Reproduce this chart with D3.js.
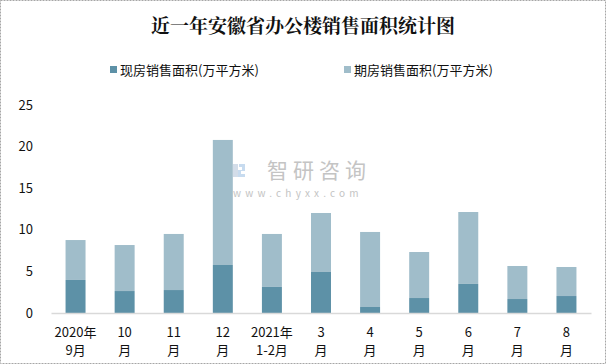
<!DOCTYPE html>
<html><head><meta charset="utf-8">
<script src="https://cdn.jsdelivr.net/npm/d3@7"></script>
<style>
html,body{margin:0;padding:0;background:#fff;}
svg{display:block;}
text{font-family:"Microsoft YaHei","Noto Sans CJK SC",sans-serif;}
</style></head>
<body>
<script>
const categories = [["2020年","9月"],["10","月"],["11","月"],["12","月"],["2021年","1-2月"],["3","月"],["4","月"],["5","月"],["6","月"],["7","月"],["8","月"]];
const seriesNames = ["现房销售面积(万平方米)","期房销售面积(万平方米)"];
const existingArea = [3.97, 2.64, 2.76, 5.77, 3.13, 4.93, 0.72, 1.80, 3.49, 1.68, 2.04];
const forwardArea  = [4.80, 5.53, 6.74, 15.03, 6.37, 7.09, 9.02, 5.53, 8.65, 3.97, 3.49];
const yTicks = [0, 5, 10, 15, 20, 25];
const colors = ["#5d91a7", "#a0bdca"];
const titleText = "近一年安徽省办公楼销售面积统计图";

const W = 606, H = 364;
const svg = d3.select("body").append("svg").attr("width", W).attr("height", H);

svg.append("rect").attr("x",0.5).attr("y",0.5).attr("width",W-1).attr("height",H-1)
  .attr("fill","#fff").attr("stroke","#a6a6a6").attr("stroke-width",1).attr("stroke-dasharray","2,1");

svg.append("text").attr("x", W/2).attr("y", 33).attr("text-anchor","middle")
  .attr("font-size", 19).attr("font-weight","bold").attr("fill","#111")
  .style("font-family",'"Noto Serif CJK SC","Noto Sans CJK SC",serif')
  .text(titleText);

// watermark
const wm = svg.append("g");
wm.append("rect").attr("x",233).attr("y",164).attr("width",5).attr("height",13).attr("fill","#d3dde9");
wm.append("path").attr("d","M239,164 h6 v7 h-4 v3 h4 v3 h-7 v-7 h4 v-3 h-3 z").attr("fill","#c7dbef");
wm.append("text").attr("x",267).attr("y",178).attr("font-size",21).attr("fill","#c4c4c4")
  .attr("letter-spacing",5).text("智研咨询");
wm.append("text").attr("x",233).attr("y",197).attr("font-size",10).attr("fill","#c4c4c4")
  .attr("letter-spacing",4.2).text("www.chyxx.com");

const x = d3.scaleBand().domain(d3.range(categories.length)).range([51, 591])
  .paddingInner(0.593).paddingOuter(0.2965);
const y = d3.scaleLinear().domain([0, 25]).range([313, 105]);

// y labels
const yAxis = d3.axisLeft(y).tickValues(yTicks).tickSize(0).tickPadding(0);
const ya = svg.append("g").attr("transform","translate(33,0)").call(yAxis);
ya.select(".domain").remove();
ya.selectAll("text").attr("font-size",13).attr("fill","#111")
  .style("font-family",'"Microsoft YaHei","Noto Sans CJK SC",sans-serif');

// bars
const stackData = categories.map((c,i)=>({i, a: existingArea[i], b: forwardArea[i]}));
const stack = d3.stack().keys(["a","b"])(stackData);
svg.append("g").selectAll("g").data(stack).join("g")
  .attr("fill",(d,k)=>colors[k])
  .selectAll("rect").data(d=>d).join("rect")
  .attr("x", d=>x(d.data.i)).attr("width", x.bandwidth())
  .attr("y", d=>y(d[1])).attr("height", d=>y(d[0])-y(d[1]));

// x axis
const xAxis = d3.axisBottom(x).tickSize(0).tickFormat("");
const xa = svg.append("g").attr("transform","translate(0,313)").call(xAxis);
xa.select(".domain").attr("stroke","#d9d9d9").attr("stroke-width",1.5);
const lab = svg.append("g").selectAll("text").data(categories).join("text")
  .attr("text-anchor","middle").attr("font-size",13).attr("fill","#111");
lab.append("tspan").attr("x",(d,i)=>x(i)+x.bandwidth()/2).attr("y",337).text(d=>d[0]);
lab.append("tspan").attr("x",(d,i)=>x(i)+x.bandwidth()/2).attr("y",355).text(d=>d[1]);

// legend
const legX = [110, 344];
const lg = svg.append("g").selectAll("g").data(seriesNames).join("g")
  .attr("transform",(d,i)=>`translate(${legX[i]},0)`);
lg.append("rect").attr("x",0).attr("y",66).attr("width",7).attr("height",7).attr("fill",(d,i)=>colors[i]);
lg.append("text").attr("x",10).attr("y",75).attr("font-size",13).attr("fill","#111").text(d=>d);
</script>
</body></html>
